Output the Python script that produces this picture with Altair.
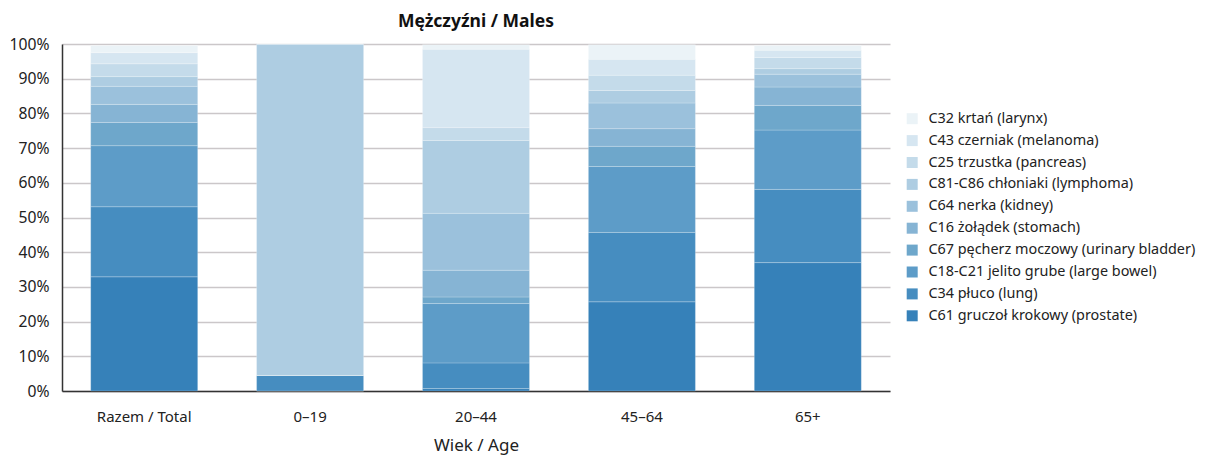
import altair as alt
import pandas as pd

groups = ["Razem / Total", "0–19", "20–44", "45–64", "65+"]

# bottom -> top stacking order
cancers = [
    "C61 gruczoł krokowy (prostate)",
    "C34 płuco (lung)",
    "C18-C21 jelito grube (large bowel)",
    "C67 pęcherz moczowy (urinary bladder)",
    "C16 żołądek (stomach)",
    "C64 nerka (kidney)",
    "C81-C86 chłoniaki (lymphoma)",
    "C25 trzustka (pancreas)",
    "C43 czerniak (melanoma)",
    "C32 krtań (larynx)",
]
colors = ["#3681b9", "#468dc0", "#5d9cc8", "#6ea7cb", "#86b4d4",
          "#9bc1dc", "#aecde2", "#c4dbea", "#d6e6f1", "#ebf3f7"]

prostate = [32.9, 0.0, 0.7, 25.7, 37.0]
lung = [20.2, 4.5, 7.4, 20.0, 21.1]
bowel = [17.6, 0.0, 17.1, 19.0, 17.1]
bladder = [6.7, 0.0, 1.9, 5.8, 7.1]
stomach = [5.2, 0.0, 7.7, 5.1, 5.3]
kidney = [5.2, 0.0, 16.4, 7.4, 3.7]
lymphoma = [2.8, 95.5, 21.0, 3.6, 1.6]
pancreas = [3.7, 0.0, 3.7, 4.4, 3.2]
melanoma = [3.2, 0.0, 22.6, 4.6, 2.1]
larynx = [2.1, 0.0, 1.3, 4.2, 1.4]

series = [prostate, lung, bowel, bladder, stomach, kidney,
          lymphoma, pancreas, melanoma, larynx]

rows = []
for i, (name, vals) in enumerate(zip(cancers, series)):
    for g, v in zip(groups, vals):
        rows.append({"group": g, "cancer": name, "value": v, "idx": i})
df = pd.DataFrame(rows)

FONT = "Noto Sans"
W, H = 828, 347

chart = alt.Chart(df).mark_bar(
    stroke="white", strokeWidth=0.6, strokeOpacity=0.35
).encode(
    x=alt.X("group:N", sort=groups, title="Wiek / Age",
            scale=alt.Scale(paddingInner=0.355, paddingOuter=0.173),
            axis=alt.Axis(labelAngle=0, labelFontSize=15, titleFontSize=17,
                          titleFontWeight="normal", labelBaseline="alphabetic",
                          labelPadding=30, ticks=False, tickSize=0,
                          titleBaseline="alphabetic", titleX=W / 2, titleY=59,
                          domainColor="#333", domainWidth=1.5,
                          labelColor="#222", titleColor="#222")),
    y=alt.Y("value:Q", stack="zero", title=None,
            scale=alt.Scale(domain=[0, 100], nice=False),
            axis=alt.Axis(values=list(range(0, 101, 10)),
                          labelExpr="datum.value + '%'",
                          labelFontSize=15.7, labelPadding=13, ticks=False, tickSize=0,
                          grid=True, gridColor="#cbc7c9", gridWidth=1.5,
                          domainColor="#333", domainWidth=1.5, labelColor="#222")),
    color=alt.Color("cancer:N",
                    scale=alt.Scale(domain=cancers[::-1], range=colors[::-1]),
                    legend=alt.Legend(title=None, orient="none", legendX=843, legendY=67.5,
                                      symbolType="square", symbolSize=121,
                                      symbolStrokeWidth=0, labelFontSize=14.4,
                                      rowPadding=6.9, labelLimit=300,
                                      labelColor="#222", labelOffset=9)),
    order=alt.Order("idx:Q", sort="ascending"),
).properties(
    width=W, height=H,
    autosize=alt.AutoSizeParams(type="none"),
    padding={"left": 54, "top": 36, "right": 307, "bottom": 64},
    title=alt.TitleParams("Mężczyźni / Males", fontSize=17.5, fontWeight="bold",
                          anchor="middle", offset=6,
                          color="#111", font=FONT),
).configure(font=FONT).configure_view(stroke=None)

chart.save("out.html", embed_options={"renderer": "svg", "actions": False})
